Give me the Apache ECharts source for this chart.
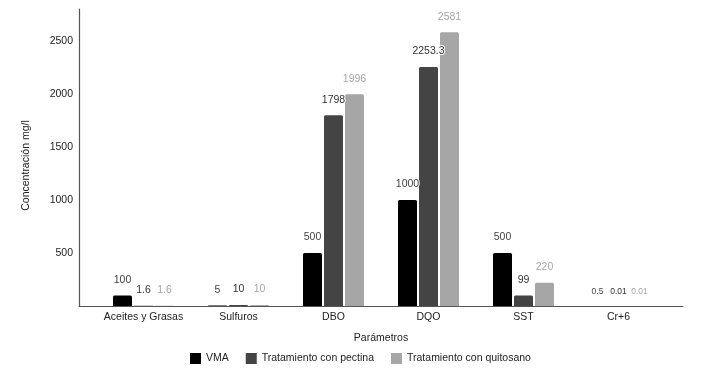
<!DOCTYPE html>
<html><head><meta charset="utf-8">
<script src="https://cdn.jsdelivr.net/npm/echarts@6/dist/echarts.min.js"></script>
<style>html,body{margin:0;padding:0;background:#fff}#c{width:702px;height:372px}</style>
</head><body><div id="c"></div>
<script>
const categories = ['Aceites y Grasas','Sulfuros','DBO','DQO','SST','Cr+6'];
const vma = [100, 5, 500, 1000, 500, 0.5];
const pectina = [1.6, 10, 1798, 2253.3, 99, 0.01];
const quitosano = [1.6, 10, 1996, 2581, 220, 0.01];
const seriesNames = ['VMA','Tratamiento con pectina','Tratamiento con quitosano'];
const yTicks = [500, 1000, 1500, 2000, 2500];

const FONT = 'Liberation Sans, Arial, sans-serif';
const FS = 10.5;
const SMALL_FS = 8.5;          // crowded labels in the last category
const colors = ['#000000','#444444','#a6a6a6'];
const labelColors = ['#444444','#333333','#a6a6a6'];
const datasets = [vma, pectina, quitosano];

const chart = echarts.init(document.getElementById('c'));
chart.setOption({
  animation:false,
  textStyle:{fontFamily:FONT},
  grid:[
    {left:96, right:36, top:9, bottom:66},
    {left:79, right:19, top:9, bottom:66}
  ],
  legend:{
    left:190, top:353, padding:0, itemWidth:11, itemHeight:11, itemGap:17,
    icon:'rect',
    textStyle:{fontFamily:FONT, fontSize:FS, color:'#222'},
    data:seriesNames
  },
  xAxis:[
    {type:'category', gridIndex:0, data:categories,
     axisLine:{show:false}, axisTick:{show:false},
     axisLabel:{fontFamily:FONT, fontSize:FS, color:'#222', margin:6, interval:0},
     name:'Parámetros', nameLocation:'middle', nameGap:27,
     nameTextStyle:{fontFamily:FONT, fontSize:FS, color:'#222'}},
    {type:'category', gridIndex:1, data:[''],
     axisLine:{show:true, lineStyle:{color:'#555', width:1.2}},
     axisTick:{show:false}, axisLabel:{show:false}}
  ],
  yAxis:[
    {type:'value', gridIndex:0, min:0, max:2800, interval:500, offset:17,
     axisLine:{show:true, lineStyle:{color:'#555', width:1.2}},
     axisTick:{show:false}, splitLine:{show:false},
     axisLabel:{fontFamily:FONT, fontSize:FS, color:'#222', margin:6,
       formatter:v=>yTicks.includes(v)?String(v):''},
     name:'Concentración mg/l', nameLocation:'middle', nameGap:47,
     nameTextStyle:{fontFamily:FONT, fontSize:FS, color:'#222', padding:[0,16,0,0]}},
    {type:'value', gridIndex:1, show:false, min:0, max:1}
  ],
  series: datasets.map((d,i)=>({
    name:seriesNames[i], type:'bar', xAxisIndex:0, yAxisIndex:0,
    data:d.map((v,j)=> j===categories.length-1
      ? {value:v, label:{fontSize:SMALL_FS}}
      : v),
    barWidth:19, barGap:'10.5%',
    itemStyle:{color:colors[i], borderRadius:[1.5,1.5,0,0]},
    label:{show:true, position:'top', distance:10, fontFamily:FONT, fontSize:FS,
      color:labelColors[i], textBorderColor:'#fff', textBorderWidth:2,
      formatter:p=>String(p.value)}
  }))
});
</script></body></html>
